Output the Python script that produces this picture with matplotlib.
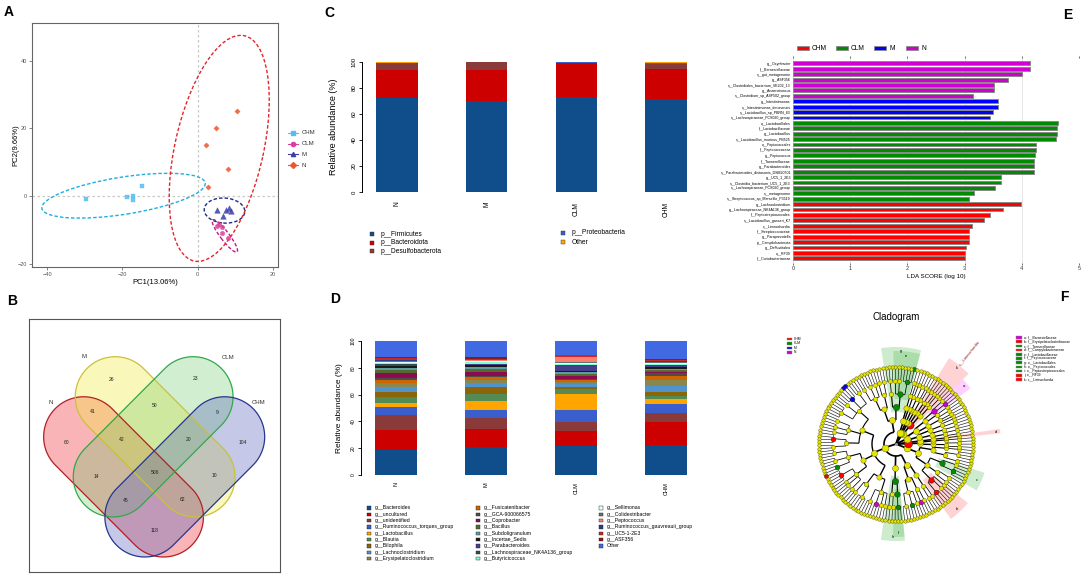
import numpy as np
import matplotlib
matplotlib.use('Agg')
import matplotlib.pyplot as plt
from matplotlib.patches import Ellipse, Polygon, Rectangle, Wedge
from matplotlib.lines import Line2D
from matplotlib.collections import LineCollection

plt.rcParams['font.family'] = ['Liberation Sans', 'DejaVu Sans']

W, H = 1084, 574

# ---------------- A: PCA ----------------
pca_groups = ['CHM', 'CLM', 'M', 'N']
chm_pc1 = [-29.6, -18.9, -17.3, -17.2, -14.9]
chm_pc2 = [-1.0, -0.3, -0.1, -1.3, 3.0]
clm_pc1 = [5.6, 6.5, 6.5, 7.9, 5.1]
clm_pc2 = [-8.4, -9.2, -11.0, -12.3, -8.9]
m_pc1 = [5.0, 7.6, 8.3, 6.7, 8.9]
m_pc2 = [-4.2, -4.0, -3.6, -6.0, -4.4]
n_pc1 = [10.4, 4.9, 2.3, 7.9, 2.6]
n_pc2 = [25.1, 20.0, 15.1, 7.9, 2.8]
# confidence ellipses: centre, width, height, angle
ell_cx = [-19.7, 7.2, 7.1, 5.7]
ell_cy = [0.1, -11.8, -4.3, 14.1]
ell_w = [44.0, 11.5, 10.8, 68.0]
ell_h = [11.0, 2.4, 7.4, 23.6]
ell_ang = [10, -56, -5, 79]

# ---------------- B: Venn ----------------
venn_sets = ['N', 'M', 'CLM', 'CHM']
venn_counts = [60, 26, 23, 104, 41, 50, 9, 42, 20, 14, 506, 10, 45, 62, 118]

# ---------------- C: phylum level ----------------
samples = ['N', 'M', 'CLM', 'CHM']
phylum_names = ['p__Firmicutes', 'p__Bacteroidota', 'p__Desulfobacterota',
                'p__Proteobacteria', 'Other']
phy_firmicutes = [72.0, 70.0, 72.7, 71.7]
phy_bacteroidota = [22.0, 24.0, 26.8, 23.2]
phy_desulfo = [5.0, 6.0, 0.0, 3.3]
phy_proteo = [0.5, 0.0, 0.2, 1.3]
phy_other = [0.5, 0.0, 0.3, 0.5]

# ---------------- D: genus level ----------------
genus_names = ['g__Bacteroides', 'g__uncultured', 'g__unidentified',
               'g__Ruminococcus_torques_group', 'g__Lactobacillus', 'g__Blautia',
               'g__Bilophila', 'g__Lachnoclostridium', 'g__Erysipelatoclostridium',
               'g__Fusicatenibacter', 'g__GCA-900066575', 'g__Coprobacter',
               'g__Bacillus', 'g__Subdoligranulum', 'g__Incertae_Sedis',
               'g__Parabacteroides', 'g__Lachnospiraceae_NK4A136_group',
               'g__Butyricicoccus', 'g__Sellimonas', 'g__Colidextribacter',
               'g__Peptococcus', 'g__Ruminococcus_gauvreauii_group', 'g__UC5-1-2E3',
               'g__ASF356', 'Other']
genus_N = [18.7, 14.9, 10.9, 6.5, 2.5, 5.0, 3.7, 3.7, 2.5, 2.5, 1.2, 3.7, 2.5,
           1.7, 1.2, 0.8, 0.8, 1.0, 0.7, 0.5, 0.3, 0.5, 1.7, 0.5, 12.0]
genus_M = [20.6, 14.0, 8.2, 5.7, 7.0, 4.7, 5.2, 3.5, 2.0, 2.0, 1.2, 2.5, 2.7,
           1.0, 1.5, 0.7, 0.7, 1.0, 0.7, 0.5, 0.2, 0.5, 0.7, 1.0, 12.2]
genus_CLM = [21.6, 11.2, 6.5, 9.2, 11.7, 4.0, 1.7, 2.0, 1.2, 1.7, 1.0, 2.0, 1.5,
             1.7, 0.7, 3.5, 0.7, 0.7, 1.0, 0.5, 3.7, 0.3, 1.2, 0.3, 10.4]
genus_CHM = [22.4, 17.4, 6.2, 7.0, 3.5, 2.5, 3.2, 4.5, 4.2, 3.2, 1.8, 0.9, 1.2,
             1.0, 1.8, 0.7, 0.8, 0.9, 0.7, 0.5, 0.3, 0.3, 0.7, 1.0, 13.3]

# ---------------- E: LEfSe LDA ----------------
lda_labels = ['g__Oxynbacter', 'f__Barnesiellaceae', 's__gut_metagenome', 'g__ASF356',
              's__Clostridiales_bacterium_VE202_13', 'g__Anaerotruncus',
              's__Clostridium_sp_ASF502_group',
              'g__Intestinimonas', 's__Intestinimonas_timonensis',
              's__Lactobacillus_sp_PBRN_83', 's__Lachnospiraceae_FCS020_group',
              'o__Lactobacillales', 'f__Lactobacillaceae', 'g__Lactobacillus',
              's__Lactobacillus_murinus_PB525', 'o__Peptococcales', 'f__Peptococcaceae',
              'g__Peptococcus', 'f__Tannerellaceae', 'g__Parabacteroides',
              's__Parabacteroides_distasonis_DSM20701', 'g__UC5_1_2E3',
              's__Clostridia_bacterium_UC5_1_2E3', 's__Lachnospiraceae_FCS020_group',
              's__metagenome', 's__Streptococcus_sp_Marseille_P3519',
              'g__Lachnoclostridium', 'g__Lachnospiraceae_NK4A136_group',
              'f__Peptostreptococcales', 's__Lactobacillus_gasseri_K7',
              'c__Limnochordia', 'f__Streptococcaceae', 'g__Paraprevotella',
              'p__Campilobacterota', 'g__Defluviitalea', 'o__RF39',
              'f__Coriobacteriaceae']
lda_scores = [4.15, 4.15, 4.01, 3.76, 3.52, 3.51, 3.15,
              3.58, 3.58, 3.49, 3.45,
              4.64, 4.62, 4.62, 4.60, 4.24, 4.24, 4.23, 4.22, 4.22, 4.22,
              3.63, 3.63, 3.53, 3.16, 3.07,
              3.98, 3.67, 3.44, 3.34, 3.13, 3.07, 3.07, 3.07, 3.02, 3.01, 3.01]
lda_groups = ['N'] * 7 + ['M'] * 4 + ['CLM'] * 15 + ['CHM'] * 11

# ---------------- F: cladogram ----------------
# phylum > class > order > family > genus (number of species)
clado_tree = [
    [  # Firmicutes
        [[[4, 2, 1], [3]], [[2, 2], [1, 3, 2]]],
        [[[3, 4, 2, 5], [2, 3, 1], [4, 2]], [[3, 3, 2], [5, 1, 2, 2]], [[2, 4], [3, 2, 2, 1]]],
        [[[2, 1], [3]]],
        [[[3, 2, 2], [1, 2]], [[2, 1]]],
    ],
    [[[[3, 2, 1], [2, 2], [4, 1]], [[2, 3], [1]]]],          # Bacteroidota
    [[[[1, 2]], [[1]]]],                                     # Desulfobacterota
    [[[[1]]]],                                               # Campilobacterota
    [[[[1, 2], [1]], [[2, 1]]], [[[1, 1, 2]], [[1], [2, 1]]]],  # Proteobacteria
    [[[[2, 1], [1]], [[2]]], [[[1, 1]]]],                    # Actinobacteriota
    [[[[2]]]],                                               # Verrucomicrobiota
    [[[[1, 1]], [[1]]]],                                     # Patescibacteria
]
clado_marks = [
    ((0, 0, 0), 'CLM', 'g'), ((0, 0, 0, 0), 'CLM', 'e'), ((0, 0, 0, 0, 0), 'CLM', ''),
    ((0, 0, 0, 0, 0, 0), 'CLM', ''),
    ((0, 2, 0), 'CLM', 'h'), ((0, 2, 0, 1), 'CLM', 'f'), ((0, 2, 0, 1, 0), 'CLM', ''),
    ((1, 0, 0, 0), 'CHM', 'b'), ((1, 0, 0, 0, 0), 'CHM', ''),
    ((1, 0, 0, 2), 'CLM', 'c'), ((1, 0, 0, 2, 0), 'CLM', ''),
    ((3,), 'CHM', 'd'), ((5, 0), 'CHM', 'k'),
    ((4, 1, 1, 1), 'N', 'a'), ((4, 1, 1, 1, 0), 'N', ''),
    ((0, 1, 0, 0, 1), 'M', ''), ((0, 1, 0, 0, 1, 0), 'M', ''), ((0, 1, 0, 0, 1, 1), 'M', ''),
    ((0, 1, 1, 1, 0), 'CHM', ''), ((0, 1, 1, 1, 0, 0), 'CHM', ''),
    ((0, 1, 2, 1, 1), 'N', ''), ((0, 3, 0, 0, 1), 'CLM', ''), ((0, 1, 0, 2, 0), 'CHM', ''),
    ((0, 1, 1, 0, 2), 'CLM', ''), ((0, 3, 0, 1, 0), 'N', ''),
]
clado_keys = ['a: f__Barnesiellaceae', 'b: f__Erysipelatoclostridiaceae',
              'c: f__Tannerellaceae', 'd: f__Campylobacteraceae', 'e: f__Lactobacillaceae',
              'f: f__Peptococcaceae', 'g: o__Lactobacillales', 'h: o__Peptococcales',
              'i: o__Peptostreptococcales', 'j: o__RF39', 'k: c__Limnochordia']
clado_key_groups = ['N', 'CHM', 'CLM', 'CHM', 'CLM', 'CLM', 'CLM', 'CLM', 'CLM', 'CHM', 'CHM']

group_colors = {'CHM': '#ff0000', 'CLM': '#008b00', 'M': '#0000ff', 'N': '#d000d0'}


def rect(x0, y0, x1, y1):
    return [x0 / W, 1 - y1 / H, (x1 - x0) / W, (y1 - y0) / H]


def fx(x):
    return x / W


def fy(y):
    return 1 - y / H


fig = plt.figure(figsize=(W / 100, H / 100), dpi=100)

# panel letters
for letter, (lx, ly) in zip('ABCDEF', [(9, 12), (12, 301), (329, 13), (335, 299), (1068, 15), (1064, 297)]):
    fig.text(fx(lx), fy(ly), letter, fontsize=10, fontweight='bold', ha='center', va='center')

# ================= A =================
ax = fig.add_axes(rect(32, 23, 278, 267))
ax.axhline(0, color='#c8c8c8', lw=0.9, ls=(0, (2, 2)), zorder=0)
ax.axvline(0, color='#c8c8c8', lw=0.9, ls=(0, (2, 2)), zorder=0)
pca_colors = ['#56bdf0', '#d8409c', '#3d3da8', '#f0532e']
ell_colors = ['#1eaee0', '#c21a80', '#1d2a85', '#e3262b']
pca_markers = ['s', 'o', '^', 'D']
pca_sizes = [10, 10, 16, 7]
pc1_all = [chm_pc1, clm_pc1, m_pc1, n_pc1]
pc2_all = [chm_pc2, clm_pc2, m_pc2, n_pc2]
for i in range(4):
    ax.scatter(pc1_all[i], pc2_all[i], marker=pca_markers[i], s=pca_sizes[i],
               color=pca_colors[i], alpha=0.85, lw=0.3, zorder=3)
    ax.add_patch(Ellipse((ell_cx[i], ell_cy[i]), ell_w[i], ell_h[i], angle=ell_ang[i],
                         fill=False, ec=ell_colors[i], lw=1.0, ls=(0, (2.5, 1.5)), zorder=2))
ax.set_xlim(-44, 21.3)
ax.set_ylim(-21, 51.2)
ax.set_xticks([-40, -20, 0, 20])
ax.set_yticks([-20, 0, 20, 40])
ax.tick_params(labelsize=4, length=2, width=0.5, colors='#555555', pad=1.5)
for s in ax.spines.values():
    s.set_color('#666666')
    s.set_linewidth(0.8)
ax.set_xlabel('PC1(13.06%)', fontsize=5.5)
ax.xaxis.set_label_coords(0.5, -0.05)
ax.set_ylabel('PC2(9.66%)', fontsize=5.5)
ax.yaxis.set_label_coords(-0.05, 0.5)

# A legend
for i, g in enumerate(pca_groups):
    yy = fy(133 + i * 10.7)
    fig.add_artist(Line2D([fx(288), fx(298)], [yy, yy], color=pca_colors[i], lw=0.8,
                          transform=fig.transFigure))
    fig.add_artist(Line2D([fx(293)], [yy], color=pca_colors[i], marker=pca_markers[i],
                          markersize=3, lw=0, transform=fig.transFigure))
    fig.text(fx(302), yy, g, fontsize=4.3, va='center', ha='left', color='#333333')

# ================= B =================
axb = fig.add_axes(rect(29, 319, 280, 572))
axb.set_xlim(86, 840)
axb.set_ylim(875, 117)
axb.set_xticks([])
axb.set_yticks([])
for s in axb.spines.values():
    s.set_color('#555555')
    s.set_linewidth(0.8)


def stadium(p1, p2, r, n=60):
    p1 = np.array(p1, float)
    p2 = np.array(p2, float)
    d = p2 - p1
    a = np.arctan2(d[1], d[0])
    t1 = np.linspace(a + np.pi / 2, a + 3 * np.pi / 2, n)
    t2 = np.linspace(a - np.pi / 2, a + np.pi / 2, n)
    return np.vstack([p1 + r * np.c_[np.cos(t1), np.sin(t1)],
                      p2 + r * np.c_[np.cos(t2), np.sin(t2)]])


venn_cap1 = [(250, 470), (345, 350), (579, 350), (674, 470)]
venn_cap2 = [(490, 710), (585, 590), (339, 590), (434, 710)]
venn_fill = ['#ee3b44', '#f3ea3a', '#5cc35a', '#5a66bb']
venn_alpha = [0.38, 0.35, 0.28, 0.35]
venn_edge = ['#b31f24', '#c9c23a', '#31a84a', '#27358f']
for i in range(4):
    pts = stadium(venn_cap1[i], venn_cap2[i], 120)
    axb.add_patch(Polygon(pts, closed=True, fc=venn_fill[i], alpha=venn_alpha[i], ec='none'))
for i in range(4):
    pts = stadium(venn_cap1[i], venn_cap2[i], 120)
    axb.add_patch(Polygon(pts, closed=True, fill=False, ec=venn_edge[i], lw=0.9))
venn_label_pos = [(150, 368), (250, 230), (683, 232), (777, 368)]
for name, (vx, vy) in zip(venn_sets, venn_label_pos):
    axb.text(vx, vy, name, fontsize=4.3, ha='center', va='center', color='#333333')
venn_count_pos = [(200, 487), (333, 298), (587, 296), (727, 488), (278, 393), (463, 376),
                  (650, 397), (365, 478), (565, 478), (288, 590), (463, 578), (643, 585),
                  (375, 660), (548, 658), (463, 750)]
for c, (vx, vy) in zip(venn_counts, venn_count_pos):
    axb.text(vx, vy, str(c), fontsize=3.6, ha='center', va='center', color='#222222')

# ================= C =================
xs = np.arange(len(samples))
axc = fig.add_axes(rect(362, 62, 700, 192))
phylum_vals = [phy_firmicutes, phy_bacteroidota, phy_desulfo, phy_proteo, phy_other]
phylum_colors = ['#104e8b', '#cd0000', '#8b3a3a', '#3a5fcd', '#ffa500']
bottom = np.zeros(len(samples))
for vals, col in zip(phylum_vals, phylum_colors):
    axc.bar(xs, vals, 0.46, bottom=bottom, color=col, edgecolor='none')
    bottom += np.array(vals)
axc.set_xlim(-0.39, 3.38)
axc.set_ylim(0, 100)


def r_axis(a, ylab, labx, tick_fs, lab_fs, xpad):
    for k in ['top', 'right', 'bottom']:
        a.spines[k].set_visible(False)
    a.spines['left'].set_bounds(0, 100)
    a.spines['left'].set_linewidth(0.7)
    a.set_yticks([0, 20, 40, 60, 80, 100])
    a.set_yticklabels(['0', '20', '40', '60', '80', '100'], rotation=90, va='center')
    a.tick_params(axis='y', labelsize=tick_fs, length=2.5, width=0.6, pad=1.5)
    a.set_xticks(xs)
    a.set_xticklabels(samples, rotation=90, fontsize=tick_fs + 0.5)
    a.tick_params(axis='x', length=0, pad=xpad)
    a.set_ylabel(ylab, fontsize=lab_fs)
    a.yaxis.set_label_coords(labx, 0.5)


r_axis(axc, 'Relative abundance (%)', -0.07, 4.3, 6.5, 7)

legend_c = [(372, 234, 0), (372, 243, 1), (372, 251, 2), (563, 233, 3), (563, 242, 4)]
for mx, my, k in legend_c:
    fig.add_artist(Rectangle((fx(mx - 2), fy(my + 2)), 4 / W, 4 / H, fc=phylum_colors[k],
                             ec='#333333', lw=0.3, transform=fig.transFigure))
    fig.text(fx(mx + 9), fy(my), phylum_names[k], fontsize=4.8, va='center', ha='left')

# ================= D =================
axd = fig.add_axes(rect(361, 341, 700, 475))
genus_vals = np.array([genus_N, genus_M, genus_CLM, genus_CHM]).T
genus_colors = ['#104e8b', '#cd0000', '#8b3a3a', '#3a5fcd', '#ffa500', '#548b54',
                '#8b6508', '#4f94cd', '#8b864e', '#cd6600', '#4d4d4d', '#8b0a50',
                '#556b2f', '#5f9ea0', '#1a1a1a', '#483d8b', '#2f4f4f', '#7fffd4',
                '#e0ffff', '#6e6e6e', '#fa8072', '#27408b', '#cd2626', '#8b1a1a',
                '#4169e1']
bottom = np.zeros(len(samples))
for vals, col in zip(genus_vals, genus_colors):
    axd.bar(xs, vals, 0.46, bottom=bottom, color=col, edgecolor='none')
    bottom += vals
axd.set_xlim(-0.39, 3.38)
axd.set_ylim(0, 100)
r_axis(axd, 'Relative abundance (%)', -0.053, 3.6, 6.0, 5)

for k, name in enumerate(genus_names):
    col = k // 9
    row = k % 9
    mx = [369, 478, 601][col]
    my = 508 + row * 6.33
    fig.add_artist(Rectangle((fx(mx - 1.7), fy(my + 1.7)), 3.4 / W, 3.4 / H,
                             fc=genus_colors[k], ec='#222222', lw=0.3,
                             transform=fig.transFigure))
    fig.text(fx(mx + 6), fy(my), name, fontsize=3.7, va='center', ha='left')

# ================= E =================
axe = fig.add_axes(rect(793, 58, 1079, 263))
yy = np.arange(len(lda_scores))
axe.barh(yy, lda_scores, height=0.72, color=[group_colors[g] for g in lda_groups],
         edgecolor='#8a8a8a', lw=0.7, zorder=2)
axe.set_xlim(0, 5)
axe.set_ylim(len(lda_scores) - 0.13, -0.98)
axe.set_yticks(yy)
axe.set_yticklabels(lda_labels, fontsize=2.6)
axe.tick_params(axis='y', length=0, pad=1.5)
axe.set_xticks(range(6))
axe.tick_params(axis='x', labelsize=4, length=1.5, width=0.5, pad=1, top=True,
                colors='#333333')
axe.grid(axis='x', color='#e2e2e2', lw=0.6, zorder=0)
for s in axe.spines.values():
    s.set_visible(False)
axe.set_xlabel('LDA SCORE (log 10)', fontsize=4.5, labelpad=2)

for i, g in enumerate(['CHM', 'CLM', 'M', 'N']):
    bx = [797, 836, 874, 906][i]
    fig.add_artist(Rectangle((fx(bx), fy(50)), 12 / W, 4 / H, fc=group_colors[g],
                             ec='#8a8a8a', lw=0.6, transform=fig.transFigure))
    fig.text(fx(bx + 15), fy(48), g, fontsize=4.8, va='center', ha='left')

# ================= F =================
axf = fig.add_axes(rect(781, 329, 1011, 559))
axf.set_xlim(-115, 115)
axf.set_ylim(-115, 115)
axf.set_aspect('equal')
axf.axis('off')
radii = [0, 12, 24, 37, 50, 63, 77]
node_size = [0, 5.0, 4.3, 3.8, 3.3, 2.9, 2.5]
line_w = [1.3, 1.2, 1.0, 0.8, 0.55, 0.4]
start = 75.0

nodes = {}


def build(node, depth, path, counter):
    if depth == 6:
        pos = counter[0]
        counter[0] += 1
        rec = {'depth': 6, 'pos': pos, 'lo': pos, 'hi': pos, 'kids': []}
        nodes[path] = rec
        return rec
    children = [None] * node if depth == 5 else node
    kids = [build(c, depth + 1, path + (i,), counter) for i, c in enumerate(children)]
    rec = {'depth': depth, 'pos': (kids[0]['pos'] + kids[-1]['pos']) / 2,
           'lo': kids[0]['lo'], 'hi': kids[-1]['hi'], 'kids': kids}
    nodes[path] = rec
    return rec


counter = [0]
build(clado_tree, 0, (), counter)
step = 360.0 / counter[0]


def ang(pos):
    return np.deg2rad(start + (pos + 0.5) * step)


segs, widths = [], []
for path, nd in nodes.items():
    if not nd['kids']:
        continue
    d = nd['depth']
    r0, r1 = radii[d], radii[d + 1]
    a0, a1 = ang(nd['kids'][0]['pos']), ang(nd['kids'][-1]['pos'])
    if r0 > 0 and a1 > a0:
        t = np.linspace(a0, a1, max(2, int((a1 - a0) * 40)))
        segs.append(np.c_[r0 * np.cos(t), r0 * np.sin(t)])
        widths.append(line_w[d])
    for k in nd['kids']:
        a = ang(k['pos'])
        segs.append([(r0 * np.cos(a), r0 * np.sin(a)), (r1 * np.cos(a), r1 * np.sin(a))])
        widths.append(line_w[d])
axf.add_collection(LineCollection(segs, colors='k', linewidths=widths, zorder=2))

mark_map = {p: g for p, g, _ in clado_marks}
for path, nd in nodes.items():
    d = nd['depth']
    if d == 0:
        continue
    a = ang(nd['pos'])
    col = group_colors[mark_map[path]] if path in mark_map else '#e4e400'
    ms = node_size[d] * (1.2 if path in mark_map else 1.0)
    axf.plot(radii[d] * np.cos(a), radii[d] * np.sin(a), 'o', ms=ms, mfc=col,
             mec='#555500' if path not in mark_map else '#222222', mew=0.3, zorder=3)
axf.plot(0, 0, 'o', ms=1.2, color='#999999', zorder=3)

wedge_colors = {'CHM': '#ff7070', 'CLM': '#5cbf5c', 'M': '#6060ff', 'N': '#ff60ff'}
for path, g, letter in clado_marks:
    if not letter:
        continue
    nd = nodes[path]
    d = nd['depth']
    a_lo = start + nd['lo'] * step
    a_hi = start + (nd['hi'] + 1) * step
    r_in = radii[d] - 5
    r_out = radii[-1] + 8 + 4 * (6 - d)
    axf.add_patch(Wedge((0, 0), r_out, a_lo, a_hi, width=r_out - r_in,
                        fc=wedge_colors[g], alpha=0.3, ec='none', zorder=0))
    am = np.deg2rad((a_lo + a_hi) / 2)
    axf.text((r_out - 4) * np.cos(am), (r_out - 4) * np.sin(am), letter, fontsize=3,
             ha='center', va='center', zorder=4)
    if letter == 'k':
        rr = r_out + 16
        axf.text(rr * np.cos(am), rr * np.sin(am), 'c__Limnochordia', fontsize=3,
                 rotation=np.rad2deg(am), rotation_mode='anchor', ha='center',
                 va='center', color='#8b1a1a', zorder=4)

fig.text(fx(896), fy(317), 'Cladogram', fontsize=7, ha='center', va='center')

for i, g in enumerate(['CHM', 'CLM', 'M', 'N']):
    ly = 339 + i * 4.4
    fig.add_artist(Rectangle((fx(787), fy(ly + 1.3)), 5 / W, 2.6 / H, fc=group_colors[g],
                             ec='#8a8a8a', lw=0.3, transform=fig.transFigure))
    fig.text(fx(794), fy(ly), g, fontsize=2.4, va='center', ha='left')

for i, (key, g) in enumerate(zip(clado_keys, clado_key_groups)):
    ly = 337.5 + i * 4.2
    fig.add_artist(Rectangle((fx(1016), fy(ly + 1.3)), 6 / W, 2.6 / H, fc=group_colors[g],
                             ec='#8a8a8a', lw=0.3, transform=fig.transFigure))
    fig.text(fx(1024), fy(ly), key, fontsize=2.4, va='center', ha='left')

fig.savefig('out.png', dpi=100)
